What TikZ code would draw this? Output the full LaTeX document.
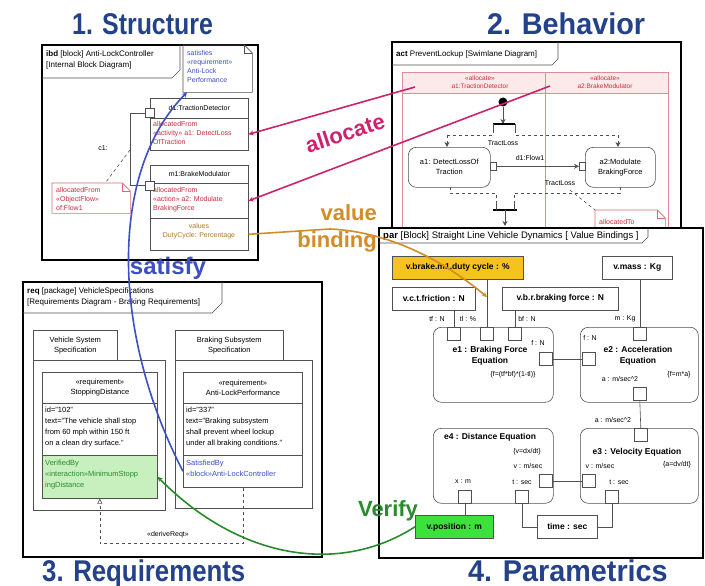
\documentclass[tikz,border=0pt]{standalone}
\usepackage{fontspec}
\usepackage{graphicx}
\setmainfont{Liberation Sans}
\usetikzlibrary{arrows.meta,calc}

\definecolor{titleblue}{RGB}{36,66,138}
\definecolor{allocmag}{RGB}{205,35,110}
\definecolor{bindorange}{RGB}{210,140,40}
\definecolor{satblue}{RGB}{60,80,195}
\definecolor{verigreen}{RGB}{40,140,45}
\definecolor{notered}{RGB}{200,45,60}
\definecolor{lanepink}{RGB}{252,234,234}
\definecolor{vfill}{RGB}{200,240,190}
\definecolor{dutyfill}{RGB}{245,195,30}
\definecolor{posfill}{RGB}{60,225,60}
\definecolor{linegray}{RGB}{80,80,80}

\begin{document}
\begin{tikzpicture}[x=1pt,y=-1pt,
  panel/.style={draw=black,line width=1.5pt,fill=white},
  thinline/.style={draw=linegray,line width=0.6pt},
  cell/.style={draw=linegray,line width=0.6pt,inner sep=0pt,anchor=north west},
  hd/.style={font=\fontsize{8}{10.5}\selectfont,inner sep=0pt},
  sm/.style={font=\fontsize{7}{9}\selectfont,inner sep=0pt},
  lane/.style={font=\fontsize{6.5}{8.5}\selectfont,inner sep=0pt},
  actt/.style={font=\fontsize{7.5}{10}\selectfont,inner sep=0pt},
  req/.style={font=\fontsize{7.5}{11}\selectfont,inner sep=0pt},
  parb/.style={font=\fontsize{8.5}{11.5}\selectfont\bfseries,inner sep=0pt,align=center},
  part/.style={font=\fontsize{7}{8}\selectfont,inner sep=0pt},
  title/.style={font=\fontsize{30}{32}\selectfont\bfseries,text=titleblue,inner sep=0pt,anchor=base west},
  biglabel/.style={font=\fontsize{22}{24}\selectfont\bfseries,inner sep=0pt},
  port/.style={cell,minimum width=13,minimum height=13,fill=white},
  pin/.style={cell,minimum width=6,minimum height=8,fill=white},
  act/.style={cell,rounded corners=8pt},
  tip/.style={-{Stealth[length=5pt,width=5pt]}},
  opentip/.style={-{Triangle[open,length=5pt,width=5pt]}}
]
\useasboundingbox (0,0) rectangle (705,586);
\fill[white] (0,0) rectangle (705,586);

% ---------- titles ----------
\node[title] (t1) at (72,35) {\scalebox{0.83}[1]{1. Structure}};
\node[title] (t2) at (487,35) {\scalebox{0.96}[1]{2. Behavior}};
\node[title] (t3) at (42,581) {\scalebox{0.86}[1]{3. Requirements}};
\node[title] (t4) at (468,581) {\scalebox{0.96}[1]{4. Parametrics}};

% ---------- 1. internal block diagram ----------
\draw[panel] (42,45) rectangle (258,260);
\draw[thinline] (42,78) -- (172,78) -- (180,70) -- (180,45);
\node[hd,anchor=north west,align=left] (ibdhead) at (46,51)
  {\textbf{ibd} [block] Anti-LockController\\{}[Internal Block Diagram]};

\node[inner sep=0,minimum width=69,minimum height=47,anchor=north west] (satnote) at (183,45) {};
\draw[thinline] (satnote.north west) -- ($(satnote.north east)+(-8,0)$) -- ($(satnote.north east)+(0,8)$)
  -- (satnote.south east) -- (satnote.south west) -- cycle;
\draw[thinline] ($(satnote.north east)+(-8,0)$) |- ($(satnote.north east)+(0,8)$);
\node[sm,anchor=north west,align=left,text=satblue] (sattext) at (187,50)
  {satisfies\\«requirement»\\Anti-Lock\\Performance};

\node[cell,minimum width=98,minimum height=20] (d1) at (150,98) {};
\node[sm] (d1name) at (d1.center) {d1:TractionDetector};
\node[cell,minimum width=98,minimum height=32] (d1alloc) at (150,118) {};
\node[sm,anchor=north west,align=left,text=notered] (d1alloctext) at (153,121)
  {allocatedFrom\\«activity» a1: DetectLoss\\OfTraction};
\node[port,minimum width=9,minimum height=9] (d1port) at (145,108.5) {};

\node[cell,minimum width=98,minimum height=18] (m1) at (150,165) {};
\node[sm] (m1name) at (m1.center) {m1:BrakeModulator};
\node[cell,minimum width=98,minimum height=35] (m1alloc) at (150,183) {};
\node[sm,anchor=north west,align=left,text=notered] (m1alloctext) at (153,187)
  {allocatedFrom\\«action» a2: Modulate\\BrakingForce};
\node[cell,minimum width=98,minimum height=32] (m1val) at (150,218) {};
\node[sm,align=center,text=bindorange!85!black] (m1valtext) at (199,231)
  {values\\DutyCycle: Percentage};
\node[port,minimum width=9,minimum height=9] (m1port) at (145,180.5) {};

\draw[thinline] (d1port.west) -- ++(-15,0) |- (m1port.west);
\coordinate (c1mid) at (130,150);
\node[sm] (c1label) at (103,148) {c1:};

\node[inner sep=0,minimum width=78,minimum height=30,anchor=north west] (c1note) at (52,183) {};
\draw[draw=notered!70,line width=0.6pt] (c1note.north west) -- ($(c1note.north east)+(-8,0)$)
  -- ($(c1note.north east)+(0,8)$) -- (c1note.south east) -- (c1note.south west) -- cycle;
\draw[draw=notered!70,line width=0.6pt] ($(c1note.north east)+(-8,0)$) |- ($(c1note.north east)+(0,8)$);
\node[sm,anchor=north west,align=left,text=notered] (c1notetext) at (56,187)
  {allocatedFrom\\«ObjectFlow»\\of:Flow1};
\draw[thinline,dashed] (c1mid) -- ($(c1note.north)+(14,0)$);

% ---------- 2. activity diagram with swimlanes ----------
\draw[panel] (392,42) rectangle (681,245);
\draw[thinline] (392,65) -- (552,65) -- (558,59) -- (558,42);
\node[hd,anchor=west] (acthead) at (396,54) {\textbf{act} PreventLockup [Swimlane Diagram]};

\fill[lanepink] (402,72) rectangle (668,93);
\draw[draw=notered!55,line width=0.7pt] (402,250) -- (402,72) -- (668,72) -- (668,250);
\draw[draw=notered!55,line width=0.7pt] (402,93) -- (668,93);
\draw[draw=notered!55,line width=0.7pt] (545,72) -- (545,250);
\node[lane,align=center,text=notered] (lane1) at (480,82) {«allocate»\\a1:TractionDetector};
\node[lane,align=center,text=notered] (lane2) at (605,82) {«allocate»\\a2:BrakeModulator};

\node[circle,fill=black,minimum size=9,inner sep=0] (init) at (503,102) {};
\coordinate (sendtop) at (503,124);
\draw[thinline,tip] (init) -- (sendtop);
\draw[line width=1.4pt] (493,124) -- (515,124);
\draw[thinline] (493,124) -- (493,130) (515,124) -- (515,130);
\node[sm] (tl1) at (503,143) {TractLoss};

\node[act,minimum width=82,minimum height=40] (a1) at (408,147) {};
\node[actt,align=center] (a1text) at (a1.center) {a1: DetectLossOf\\Traction};
\node[act,minimum width=70,minimum height=40] (a2) at (585,147) {};
\node[actt,align=center] (a2text) at (a2.center) {a2:Modulate\\BrakingForce};

\draw[thinline,dashed] (493,130) -- (493,135) -- (447,135);
\draw[thinline,dashed,tip] (447,135) -- (447,147);
\draw[thinline,dashed] (515,130) -- (515,135) -- (618,135);
\draw[thinline,dashed,tip] (618,135) -- (618,147);

\node[pin] (a1pin) at (490,162) {};
\node[pin] (a2pin) at (579,162) {};
\draw[thinline,tip] (a1pin.east) -- (a2pin.west);
\node[sm] (flowlabel) at (530,158) {d1:Flow1};

\coordinate (joinl) at (496,204);
\coordinate (joinr) at (514,204);
\draw[thinline,dashed] (450,187) -- (450,193) -| (joinl);
\draw[thinline,dashed] (620,187) -- (620,193) -| (joinr);
\draw[line width=1.4pt] (493,210) -- (517,210);
\draw[thinline] (496,204) -- (496,210) (514,204) -- (514,210);
\coordinate (joinout) at (505,226);
\draw[thinline,tip] (505,210) -- (joinout);
\node[sm] (tl2) at (560,183) {TractLoss};

\node[inner sep=0,minimum width=70,minimum height=35,anchor=north west] (atnote) at (595,210) {};
\draw[draw=notered!70,line width=0.6pt] (atnote.south west) -- (atnote.north west) -- ($(atnote.north east)+(-8,0)$)
  -- ($(atnote.north east)+(0,8)$) -- (atnote.south east);
\draw[draw=notered!70,line width=0.6pt] ($(atnote.north east)+(-8,0)$) |- ($(atnote.north east)+(0,8)$);
\node[sm,anchor=west,text=notered] (attext) at (599,222) {allocatedTo};
\draw[thinline,dashed] (570,190) -- (atnote.north west);

% ---------- 4. parametric diagram ----------
\draw[panel] (379,228) rectangle (703,558);
\draw[thinline] (379,243) -- (642,243) -- (648,237) -- (648,228);
\node[hd,anchor=west,font=\fontsize{9.5}{11}\selectfont] (parhead) at (383,236)
  {\textbf{par} [Block] Straight Line Vehicle Dynamics [ Value Bindings ]};

\node[cell,minimum width=131,minimum height=23,fill=dutyfill] (duty) at (392,256) {};
\node[parb] (dutytext) at (duty.center) {v.brake.m1.duty cycle : \%};
\node[cell,minimum width=70,minimum height=23] (mass) at (602,256) {};
\node[parb] (masstext) at (mass.center) {v.mass : Kg};
\node[cell,minimum width=83,minimum height=23] (fric) at (392,287) {};
\node[parb] (frictext) at (fric.center) {v.c.t.friction : N};
\node[cell,minimum width=116,minimum height=23] (brk) at (502,287) {};
\node[parb] (brktext) at (brk.center) {v.b.r.braking force : N};

\node[act,minimum width=120,minimum height=75] (e1) at (433,327) {};
\node[parb] (e1text) at (490,356) {e1 : Braking Force\\Equation};
\node[part] (e1eq) at (513,375) {\{f=(tf*bf)*(1-tl)\}};
\node[act,minimum width=118,minimum height=75] (e2) at (580,327) {};
\node[parb] (e2text) at (638,356) {e2 : Acceleration\\Equation};
\node[part] (e2eq) at (679,375) {\{f=m*a\}};
\node[act,minimum width=118,minimum height=75] (e3) at (580,428) {};
\node[parb] (e3text) at (637,452) {e3 : Velocity Equation};
\node[part] (e3eq) at (677,465) {\{a=dv/dt\}};
\node[act,minimum width=120,minimum height=75] (e4) at (433,428) {};
\node[parb] (e4text) at (490,437) {e4 : Distance Equation};
\node[part] (e4eq) at (527,452) {\{v=dx/dt\}};

\node[port] (ptf) at (447,327) {};
\node[port] (ptl) at (480,327) {};
\node[port] (pbf) at (508,327) {};
\node[port] (pm) at (633,327) {};
\node[port] (pf1) at (539,352) {};
\node[port] (pf2) at (582,352) {};
\node[port] (pa2) at (633,387) {};
\node[port] (pa3) at (634,428) {};
\node[port] (pv3) at (582,474) {};
\node[port] (pv4) at (539,474) {};
\node[port] (px4) at (458,490) {};
\node[port] (pt4) at (515,490) {};
\node[port] (pt3) at (605,490) {};

\node[part] (ltf) at (437,319) {tf : N};
\node[part] (ltl) at (468,319) {tl : \%};
\node[part] (lbf) at (527,319) {bf : N};
\node[part] (lm) at (625,319) {m : Kg};
\node[part] (lf1) at (538,343) {f : N};
\node[part] (lf2) at (590,338) {f : N};
\node[part] (la2) at (620,379) {a : m/sec\textasciicircum2};
\node[part] (la3) at (613,420) {a : m/sec\textasciicircum2};
\node[part] (lv3) at (600,466) {v : m/sec};
\node[part] (lv4) at (528,466) {v : m/sec};
\node[part] (lt3) at (619,482) {t : sec};
\node[part] (lt4) at (522,482) {t : sec};
\node[part] (lx4) at (463,482) {x : m};

\node[cell,minimum width=60,minimum height=23] (time) at (537,515) {};
\node[parb] (timetext) at (time.center) {time : sec};
\node[cell,minimum width=78,minimum height=23,fill=posfill] (vpos) at (415,515) {};
\node[parb] (vpostext) at (vpos.center) {v.position : m};

\draw[thinline] (ptf.north |- fric.south) -- (ptf.north);
\draw[thinline] (ptl.north |- duty.south) -- (ptl.north);
\draw[thinline] (pbf.north |- brk.south) -- (pbf.north);
\draw[thinline] (pm.north |- mass.south) -- (pm.north);
\draw[thinline] (pf1.east) -- (pf2.west);
\draw[thinline] (pa2.south) -- (pa3.north);
\draw[thinline] (pv4.east) -- (pv3.west);
\draw[thinline] (pt4.south) |- (time.west);
\draw[thinline] (pt3.south) |- (time.east);
\draw[thinline] (px4.south) -- (px4.south |- vpos.north);

% ---------- 3. requirements diagram ----------
\draw[panel] (23,282) rectangle (322,557);
\draw[thinline] (23,313) -- (212,313) -- (222,303) -- (222,282);
\node[hd,anchor=north west,align=left] (reqhead) at (27,288)
  {\textbf{req} [package] VehicleSpecifications\\{}[Requirements Diagram - Braking Requirements]};

\node[cell,minimum width=84,minimum height=30] (pk1tab) at (33,330) {};
\node[req,align=center,font=\fontsize{7.5}{10}\selectfont] (pk1name) at (pk1tab.center) {Vehicle System\\Specification};
\node[cell,minimum width=132,minimum height=150] (pk1) at (33,360) {};
\node[cell,minimum width=108,minimum height=30] (pk2tab) at (175,330) {};
\node[req,align=center,font=\fontsize{7.5}{10}\selectfont] (pk2name) at (pk2tab.center) {Braking Subsystem\\Specification};
\node[cell,minimum width=137,minimum height=148] (pk2) at (175,360) {};

\node[cell,minimum width=115,minimum height=31,line width=0.9pt] (r1) at (42,372) {};
\node[req,align=center,font=\fontsize{7.5}{10}\selectfont] (r1name) at (r1.center) {«requirement»\\StoppingDistance};
\node[cell,minimum width=115,minimum height=52] (r1txt) at (42,403) {};
\node[req,anchor=north west,align=left] (r1body) at (45,407)
  {id="102"\\text="The vehicle shall stop\\from 60 mph within 150 ft\\on a clean dry surface."};
\node[cell,minimum width=115,minimum height=43,fill=vfill] (r1ver) at (42,455) {};
\node[req,anchor=north west,align=left,text=verigreen] (r1vertext) at (45,460)
  {VerifiedBy\\«interaction»MinimumStopp\\ingDistance};

\node[cell,minimum width=119,minimum height=31,line width=0.9pt] (r2) at (183,372) {};
\node[req,align=center,font=\fontsize{7.5}{10}\selectfont] (r2name) at (r2.center) {«requirement»\\Anti-LockPerformance};
\node[cell,minimum width=119,minimum height=52] (r2txt) at (183,403) {};
\node[req,anchor=north west,align=left] (r2body) at (186,407)
  {id="337"\\text="Braking subsystem\\shall prevent wheel lockup\\under all braking conditions."};
\node[cell,minimum width=119,minimum height=32] (r2sat) at (183,455) {};
\node[req,anchor=north west,align=left,text=satblue] (r2sattext) at (186,460)
  {SatisfiedBy\\«block»Anti-LockController};

\draw[thinline,dashed,opentip] (r2sat.south) -- ++(0,56) -| (r1ver.south);
\node[sm] (derive) at (168,535) {«deriveReqt»};

% ---------- cross-view relationships ----------
\draw[allocmag,line width=1.6pt,tip] (415,87) -- (d1alloc.east);
\draw[allocmag,line width=1.6pt,tip] (550,86) -- (m1alloc.east);
\node[biglabel,text=allocmag,rotate=18] (alloclabel) at (345,133) {allocate};

\coordinate (bindtarget) at (487,297);
\draw[bindorange,line width=1.6pt,tip] (m1val.east) -- (330,229)
  .. controls (395,232) and (450,266) .. (bindtarget);
\node[biglabel,text=bindorange,align=right,anchor=east,font=\fontsize{22}{27}\selectfont\bfseries] (bindlabel) at (377,228) {value\\binding};

\draw[satblue,line width=1.6pt,tip] (r2sat.west) .. controls (110,330) and (110,170) .. ($(satnote.south west)+(4,0)$);
\node[biglabel,text=satblue,font=\fontsize{24}{26}\selectfont\bfseries] (satlabel) at (168,268) {satisfy};

\draw[verigreen,line width=1.6pt,tip] (vpos.west) .. controls (340,575) and (240,560) .. (r1ver.east);
\node[biglabel,text=verigreen] (verlabel) at (388,511) {Verify};
\end{tikzpicture}
\end{document}
